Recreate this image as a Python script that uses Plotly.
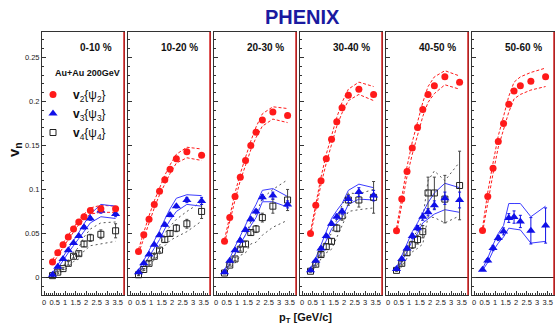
import plotly.graph_objects as go

# ---------------- data ----------------
PT = [0.4, 0.65, 0.9, 1.15, 1.4, 1.65, 1.9, 2.2, 2.7, 3.4]
CENTRALITY = ["0-10 %", "10-20 %", "20-30 %", "30-40 %", "40-50 %", "50-60 %"]
X_TICKS = [0, 0.5, 1, 1.5, 2, 2.5, 3, 3.5]
X_TICK_TEXT = ["0", "0.5", "1", "1.5", "2", "2.5", "3", "3.5"]
Y_TICKS = [0, 0.05, 0.1, 0.15, 0.2, 0.25]
Y_TICK_TEXT = ["0", "0.05", "0.1", "0.15", "0.2", "0.25"]

V2 = [
    [0.0175, 0.028, 0.037, 0.046, 0.055, 0.063, 0.069, 0.076, 0.078, 0.078],
    [0.0295, 0.0485, 0.066, 0.083, 0.098, 0.111, 0.123, 0.135, 0.143, 0.139],
    [0.041, 0.068, 0.092, 0.114, 0.133, 0.150, 0.165, 0.179, 0.188, 0.184],
    [0.050, 0.082, 0.110, 0.135, 0.157, 0.177, 0.193, 0.207, 0.214, 0.208],
    [0.053, 0.089, 0.1205, 0.147, 0.1705, 0.191, 0.208, 0.218, 0.228, 0.222],
    [0.0534, 0.092, 0.124, 0.1545, 0.175, 0.197, 0.212, 0.218, 0.223, 0.228],
]
V2_HI = [
    [0.020, 0.030, 0.039, 0.048, 0.057, 0.065, 0.072, 0.079, 0.082, 0.081],
    [0.032, 0.052, 0.070, 0.087, 0.102, 0.116, 0.128, 0.140, 0.148, 0.146],
    [0.043, 0.071, 0.096, 0.118, 0.138, 0.155, 0.171, 0.186, 0.194, 0.192],
    [0.052, 0.085, 0.114, 0.140, 0.162, 0.182, 0.199, 0.214, 0.222, 0.217],
    [0.056, 0.093, 0.126, 0.154, 0.178, 0.199, 0.217, 0.228, 0.235, 0.229],
    [0.056, 0.097, 0.130, 0.161, 0.183, 0.206, 0.222, 0.228, 0.233, 0.238],
]
V2_LO = [
    [0.015, 0.025, 0.034, 0.043, 0.052, 0.060, 0.066, 0.072, 0.074, 0.074],
    [0.027, 0.045, 0.062, 0.079, 0.094, 0.106, 0.118, 0.130, 0.136, 0.133],
    [0.039, 0.065, 0.088, 0.110, 0.128, 0.145, 0.159, 0.172, 0.180, 0.176],
    [0.048, 0.079, 0.106, 0.130, 0.152, 0.172, 0.187, 0.201, 0.208, 0.201],
    [0.050, 0.085, 0.115, 0.140, 0.163, 0.183, 0.199, 0.209, 0.219, 0.214],
    [0.051, 0.087, 0.118, 0.148, 0.167, 0.188, 0.203, 0.208, 0.213, 0.217],
]

V3 = [
    [0.003, 0.012, 0.021, 0.031, 0.039, 0.047, 0.057, 0.067, 0.076, 0.072],
    [0.006, 0.016, 0.026, 0.037, 0.048, 0.060, 0.071, 0.081, 0.088, 0.087],
    [0.006, 0.019, 0.031, 0.042, 0.054, 0.066, 0.075, 0.091, 0.093, 0.083],
    [0.008, 0.019, 0.033, 0.047, 0.061, 0.069, 0.075, 0.089, 0.097, 0.093],
    [0.0095, 0.021, 0.033, 0.047, 0.056, 0.069, 0.074, 0.082, 0.090, 0.088],
    [0.0088, 0.0193, 0.0334, 0.0448, 0.0523, 0.0675, 0.0686, 0.0636, 0.053, 0.059],
]
V3_ERR = [
    [0.001, 0.001, 0.001, 0.001, 0.001, 0.001, 0.002, 0.002, 0.003, 0.003],
    [0.001, 0.001, 0.001, 0.001, 0.001, 0.002, 0.002, 0.002, 0.003, 0.004],
    [0.001, 0.001, 0.001, 0.002, 0.002, 0.002, 0.002, 0.003, 0.004, 0.004],
    [0.001, 0.001, 0.002, 0.002, 0.002, 0.003, 0.003, 0.004, 0.005, 0.006],
    [0.001, 0.002, 0.002, 0.003, 0.003, 0.004, 0.004, 0.005, 0.007, 0.009],
    [0.001, 0.002, 0.003, 0.003, 0.004, 0.005, 0.007, 0.007, 0.015, 0.020],
]
V3_HI = [
    [0.005, 0.014, 0.023, 0.033, 0.042, 0.051, 0.061, 0.072, 0.083, 0.081],
    [0.008, 0.019, 0.030, 0.041, 0.053, 0.066, 0.078, 0.090, 0.094, 0.093],
    [0.008, 0.022, 0.035, 0.047, 0.060, 0.072, 0.083, 0.099, 0.101, 0.092],
    [0.010, 0.022, 0.037, 0.052, 0.067, 0.076, 0.084, 0.099, 0.106, 0.102],
    [0.011, 0.024, 0.037, 0.052, 0.062, 0.074, 0.085, 0.096, 0.107, 0.102],
    [0.010, 0.022, 0.037, 0.050, 0.059, 0.084, 0.084, 0.084, 0.069, 0.081],
]
V3_LO = [
    [0.002, 0.010, 0.019, 0.028, 0.036, 0.044, 0.053, 0.062, 0.069, 0.067],
    [0.004, 0.014, 0.023, 0.033, 0.043, 0.055, 0.065, 0.075, 0.083, 0.081],
    [0.004, 0.016, 0.027, 0.038, 0.049, 0.059, 0.068, 0.086, 0.086, 0.080],
    [0.006, 0.016, 0.029, 0.042, 0.055, 0.062, 0.068, 0.083, 0.089, 0.088],
    [0.008, 0.018, 0.029, 0.042, 0.050, 0.062, 0.067, 0.072, 0.077, 0.074],
    [0.008, 0.017, 0.030, 0.039, 0.046, 0.056, 0.055, 0.054, 0.039, 0.041],
]

V4 = [
    [0.002, 0.006, 0.010, 0.016, 0.024, 0.027, 0.038, 0.045, 0.049, 0.053],
    [0.003, 0.009, 0.016, 0.024, 0.031, 0.043, 0.050, 0.056, 0.061, 0.075],
    [0.005, 0.014, 0.021, 0.032, 0.038, 0.051, 0.055, 0.068, 0.081, 0.088],
    [0.007, 0.015, 0.026, 0.035, 0.041, 0.056, 0.070, 0.088, 0.088, 0.091],
    [0.008, 0.016, 0.028, 0.037, 0.043, 0.052, 0.096, 0.096, 0.089, 0.1045],
    None,
]
V4_ERR = [
    [0.001, 0.001, 0.001, 0.002, 0.002, 0.002, 0.003, 0.004, 0.005, 0.008],
    [0.001, 0.001, 0.002, 0.002, 0.002, 0.003, 0.003, 0.004, 0.005, 0.008],
    [0.001, 0.001, 0.002, 0.002, 0.003, 0.003, 0.004, 0.005, 0.008, 0.012],
    [0.001, 0.002, 0.002, 0.003, 0.003, 0.004, 0.005, 0.006, 0.008, 0.018],
    [0.001, 0.002, 0.003, 0.004, 0.005, 0.007, 0.018, 0.018, 0.027, 0.039],
    None,
]
V4_HI = [
    [0.003, 0.008, 0.013, 0.020, 0.029, 0.034, 0.046, 0.055, 0.062, 0.063],
    [0.004, 0.011, 0.019, 0.028, 0.036, 0.050, 0.058, 0.066, 0.075, 0.086],
    [0.006, 0.017, 0.026, 0.039, 0.048, 0.063, 0.072, 0.090, 0.100, 0.111],
    [0.008, 0.018, 0.031, 0.042, 0.050, 0.066, 0.082, 0.096, 0.095, 0.100],
    [0.009, 0.020, 0.034, 0.045, 0.053, 0.067, 0.110, 0.121, 0.110, 0.131],
    None,
]
V4_LO = [
    [0.001, 0.004, 0.007, 0.012, 0.018, 0.021, 0.030, 0.036, 0.038, 0.041],
    [0.002, 0.007, 0.013, 0.020, 0.026, 0.036, 0.042, 0.046, 0.052, 0.064],
    [0.004, 0.011, 0.016, 0.025, 0.028, 0.038, 0.040, 0.048, 0.057, 0.065],
    [0.006, 0.012, 0.021, 0.028, 0.032, 0.046, 0.058, 0.075, 0.077, 0.079],
    [0.007, 0.012, 0.022, 0.029, 0.033, 0.038, 0.069, 0.068, 0.062, 0.070],
    None,
]

# ---------------- style ----------------
W, H = 555, 334
PANEL_LEFT = [42, 128, 214, 300, 386, 472]
PANEL_W = 82
Y_TOP, Y_BOT = 32, 295
RED = "#ff1a1a"
BLUE = "#1010e8"
BLUE_LINE = "#3c3cff"
GRAY = "#555555"
FONT = "Liberation Sans, Arial, sans-serif"

fig = go.Figure()

for i in range(6):
    xa = "x" if i == 0 else f"x{i+1}"
    ya = "y" if i == 0 else f"y{i+1}"
    first = i == 0

    # bands
    for arr in (V2_HI[i], V2_LO[i]):
        fig.add_trace(go.Scatter(x=PT, y=arr, xaxis=xa, yaxis=ya, mode="lines",
                                 line=dict(color=RED, width=1, dash="3px,2px"),
                                 showlegend=False, hoverinfo="skip"))
    if V4[i] is not None:
        for arr in (V4_HI[i], V4_LO[i]):
            fig.add_trace(go.Scatter(x=PT, y=arr, xaxis=xa, yaxis=ya, mode="lines",
                                     line=dict(color=GRAY, width=1, dash="2px,3px"),
                                     showlegend=False, hoverinfo="skip"))
    for arr in (V3_HI[i], V3_LO[i]):
        fig.add_trace(go.Scatter(x=PT, y=arr, xaxis=xa, yaxis=ya, mode="lines",
                                 line=dict(color=BLUE_LINE, width=1),
                                 showlegend=False, hoverinfo="skip"))

    # points
    if V4[i] is not None:
        fig.add_trace(go.Scatter(
            x=PT, y=V4[i], xaxis=xa, yaxis=ya, mode="markers",
            name="<b>v</b><sub>4</sub>{ψ<sub>4</sub>}", showlegend=first, legendrank=3,
            marker=dict(symbol="square-open", size=6, color="#222222", line=dict(width=1)),
            error_y=dict(type="data", array=V4_ERR[i], color="#444444", thickness=1, width=1.5)))
    fig.add_trace(go.Scatter(
        x=PT, y=V3[i], xaxis=xa, yaxis=ya, mode="markers",
        name="<b>v</b><sub>3</sub>{ψ<sub>3</sub>}", showlegend=first, legendrank=2,
        marker=dict(symbol="triangle-up", size=8, color=BLUE),
        error_y=dict(type="data", array=V3_ERR[i], color=BLUE, thickness=1, width=1.5)))
    fig.add_trace(go.Scatter(
        x=PT, y=V2[i], xaxis=xa, yaxis=ya, mode="markers",
        name="<b>v</b><sub>2</sub>{ψ<sub>2</sub>}", showlegend=first, legendrank=1,
        marker=dict(symbol="circle", size=7, color=RED)))

    L = PANEL_LEFT[i]
    axis_common = dict(showline=True, mirror=True, linecolor="#333333", linewidth=1,
                       showgrid=False, ticks="inside", ticklen=4, tickcolor="#333333",
                       automargin=False,
                       tickfont=dict(size=7.5, color="#222222", family=FONT))
    fig.layout[("xaxis" if first else f"xaxis{i+1}")] = dict(
        domain=[L / W, (L + PANEL_W) / W], anchor=ya, range=[-0.1, 3.8],
        tickvals=X_TICKS, ticktext=X_TICK_TEXT, zeroline=False,
        minor=dict(dtick=0.1, tick0=0, ticks="inside", ticklen=2, tickcolor="#333333"),
        **axis_common)
    fig.layout[("yaxis" if first else f"yaxis{i+1}")] = dict(
        domain=[(H - Y_BOT) / H, (H - Y_TOP) / H], anchor=xa, range=[-0.02, 0.279],
        tickvals=Y_TICKS, ticktext=Y_TICK_TEXT, showticklabels=first,
        zeroline=True, zerolinecolor="#222222", zerolinewidth=1,
        minor=dict(dtick=0.01, tick0=0, ticks="inside", ticklen=2, tickcolor="#333333"),
        **axis_common)

    # red right edge of each frame
    fig.add_shape(type="line", xref=f"{xa} domain", yref=f"{ya} domain",
                  x0=1, x1=1, y0=0, y1=1, line=dict(color="#d42020", width=1.5), layer="above")

    # centrality label
    fig.add_annotation(x=(L + PANEL_W - 10) / W, y=(H - 47) / H, xref="paper", yref="paper",
                       text=f"<b>{CENTRALITY[i]}</b>", showarrow=False, xanchor="right",
                       yanchor="middle", font=dict(size=10, color="#111111", family=FONT))

fig.add_annotation(x=302 / W, y=(H - 17) / H, xref="paper", yref="paper",
                   text="<b>PHENIX</b>", showarrow=False, xanchor="center", yanchor="middle",
                   font=dict(size=20, color="#1a1aa0", family=FONT))
fig.add_annotation(x=14 / W, y=(H - 150) / H, xref="paper", yref="paper",
                   text="<b>v<sub>n</sub></b>", showarrow=False, textangle=-90,
                   xanchor="center", yanchor="middle",
                   font=dict(size=15, color="#111111", family=FONT))
fig.add_annotation(x=305 / W, y=(H - 318) / H, xref="paper", yref="paper",
                   text="<b>p<sub>T</sub> [GeV/c]</b>", showarrow=False,
                   xanchor="center", yanchor="middle",
                   font=dict(size=11, color="#111111", family=FONT))
fig.add_annotation(x=53 / W, y=(H - 73) / H, xref="paper", yref="paper",
                   text="<b>Au+Au 200GeV</b>", showarrow=False,
                   xanchor="left", yanchor="middle",
                   font=dict(size=9, color="#111111", family=FONT))

fig.update_layout(
    width=W, height=H, margin=dict(l=0, r=0, t=0, b=0),
    paper_bgcolor="white", plot_bgcolor="white",
    font=dict(family=FONT, color="#111111"),
    hovermode=False,
    legend=dict(x=33 / W, y=(H - 80) / H, xanchor="left", yanchor="top",
                bgcolor="rgba(0,0,0,0)", borderwidth=0,
                font=dict(size=12, color="#111111", family=FONT),
                tracegroupgap=0, itemwidth=30),
)

fig.write_html("out.html", config={"displayModeBar": False, "staticPlot": False},
               post_script="document.body.style.margin='0';")
